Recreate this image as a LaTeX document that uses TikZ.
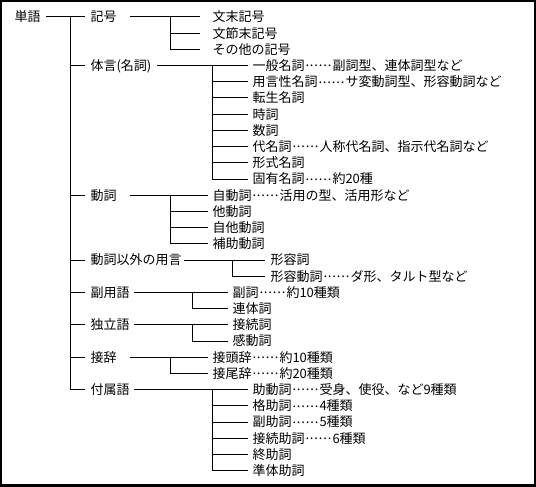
\documentclass[tikz,border=0pt]{standalone}
\usepackage{fontspec}
\setmainfont{Noto Sans CJK JP}
\newcommand\mdots{\raisebox{3.6pt}{\makebox[28pt][s]{\hspace{1pt}.\hfil.\hfil.\hfil.\hfil.\hfil.\hspace{1pt}}}}
\begin{document}
\begin{tikzpicture}[x=1pt,y=-1pt,line width=1pt,
  lab/.style={anchor=west,inner sep=0pt,text height=9.9pt,text depth=0pt,font=\fontsize{13}{15}\selectfont}]
\useasboundingbox (0,0) rectangle (536,487);
\fill[black] (0,0) rectangle (536,487);
\fill[white] (2,2) rectangle (534,484);

% level 0 / 1
\node[lab] (tango) at (14,17) {単語};
\node[lab] (kigou) at (90,17) {記号};
\node[lab] (taigen) at (90,65.6) {体言(名詞)};
\node[lab] (doushi) at (90,195.2) {動詞};
\node[lab] (yougen) at (90,260) {動詞以外の用言};
\node[lab] (fukuyougo) at (90,292.4) {副用語};
\node[lab] (dokuritsu) at (90,324.8) {独立語};
\node[lab] (setsuji) at (90,357.2) {接辞};
\node[lab] (fuzoku) at (90,389.6) {付属語};

% 記号 children
\node[lab] (k1) at (212,17) {文末記号};
\node[lab] (k2) at (212,33.2) {文節末記号};
\node[lab] (k3) at (212,49.4) {その他の記号};
% 体言 children
\node[lab] (t1) at (252,65.6) {一般名詞\mdots 副詞型、連体詞型など};
\node[lab] (t2) at (252,81.8) {用言性名詞\mdots サ変動詞型、形容動詞など};
\node[lab] (t3) at (252,98) {転生名詞};
\node[lab] (t4) at (252,114.2) {時詞};
\node[lab] (t5) at (252,130.4) {数詞};
\node[lab] (t6) at (252,146.6) {代名詞\mdots 人称代名詞、指示代名詞など};
\node[lab] (t7) at (252,162.8) {形式名詞};
\node[lab] (t8) at (252,179) {固有名詞\mdots 約20種};
% 動詞 children
\node[lab] (d1) at (212,195.2) {自動詞\mdots 活用の型、活用形など};
\node[lab] (d2) at (212,211.4) {他動詞};
\node[lab] (d3) at (212,227.6) {自他動詞};
\node[lab] (d4) at (212,243.8) {補助動詞};
% 動詞以外の用言 children
\node[lab] (y1) at (270,260) {形容詞};
\node[lab] (y2) at (270,276.2) {形容動詞\mdots ダ形、タルト型など};
% 副用語 children
\node[lab] (f1) at (232,292.4) {副詞\mdots 約10種類};
\node[lab] (f2) at (232,308.6) {連体詞};
% 独立語 children
\node[lab] (r1) at (232,324.8) {接続詞};
\node[lab] (r2) at (232,341) {感動詞};
% 接辞 children
\node[lab] (s1) at (212,357.2) {接頭辞\mdots 約10種類};
\node[lab] (s2) at (212,373.4) {接尾辞\mdots 約20種類};
% 付属語 children
\node[lab] (z1) at (252,389.6) {助動詞\mdots 受身、使役、など9種類};
\node[lab] (z2) at (252,405.8) {格助詞\mdots 4種類};
\node[lab] (z3) at (252,422) {副助詞\mdots 5種類};
\node[lab] (z4) at (252,438.2) {接続助詞\mdots 6種類};
\node[lab] (z5) at (252,454.4) {終助詞};
\node[lab] (z6) at (252,470.6) {準体助詞};

% trunk
\coordinate (T0) at (70,0);
\draw ([xshift=5pt]tango.east) -- ([xshift=-5pt]kigou.west);
\draw (T0 |- kigou.west) -- (T0 |- fuzoku.west);
\foreach \n in {taigen,doushi,yougen,fukuyougo,dokuritsu,setsuji,fuzoku}
  \draw (T0 |- \n.west) -- ([xshift=-5pt]\n.west);

% 記号 group
\coordinate (A) at (170,0);
\draw ([xshift=13pt]kigou.east) -- ([xshift=-12pt]k1.west);
\draw (A |- k1.west) -- (A |- k3.west);
\foreach \n in {k2,k3} \draw (A |- \n.west) -- ([xshift=-12pt]\n.west);

% 体言 group
\coordinate (B) at (212,0);
\draw ([xshift=5pt]taigen.east) -- ([xshift=-4pt]t1.west);
\draw (B |- t1.west) -- (B |- t8.west);
\foreach \n in {t2,t3,t4,t5,t6,t7,t8} \draw (B |- \n.west) -- ([xshift=-4pt]\n.west);

% 動詞 group
\coordinate (C) at (170,0);
\draw ([xshift=13pt]doushi.east) -- ([xshift=-4pt]d1.west);
\draw (C |- d1.west) -- (C |- d4.west);
\foreach \n in {d2,d3,d4} \draw (C |- \n.west) -- ([xshift=-4pt]\n.west);

% 動詞以外の用言 group
\coordinate (D) at (232,0);
\draw ([xshift=2pt]yougen.east) -- ([xshift=-5pt]y1.west);
\draw (D |- y1.west) -- (D |- y2.west);
\draw (D |- y2.west) -- ([xshift=-5pt]y2.west);

% 副用語 group
\coordinate (E) at (192,0);
\draw ([xshift=4pt]fukuyougo.east) -- ([xshift=-4pt]f1.west);
\draw (E |- f1.west) -- (E |- f2.west);
\draw (E |- f2.west) -- ([xshift=-4pt]f2.west);

% 独立語 group
\draw ([xshift=4pt]dokuritsu.east) -- ([xshift=-4pt]r1.west);
\draw (E |- r1.west) -- (E |- r2.west);
\draw (E |- r2.west) -- ([xshift=-4pt]r2.west);

% 接辞 group
\draw ([xshift=13pt]setsuji.east) -- ([xshift=-4pt]s1.west);
\draw (C |- s1.west) -- (C |- s2.west);
\draw (C |- s2.west) -- ([xshift=-4pt]s2.west);

% 付属語 group
\draw ([xshift=4pt]fuzoku.east) -- ([xshift=-4pt]z1.west);
\draw (B |- z1.west) -- (B |- z6.west);
\foreach \n in {z2,z3,z4,z5,z6} \draw (B |- \n.west) -- ([xshift=-4pt]\n.west);
\end{tikzpicture}
\end{document}
